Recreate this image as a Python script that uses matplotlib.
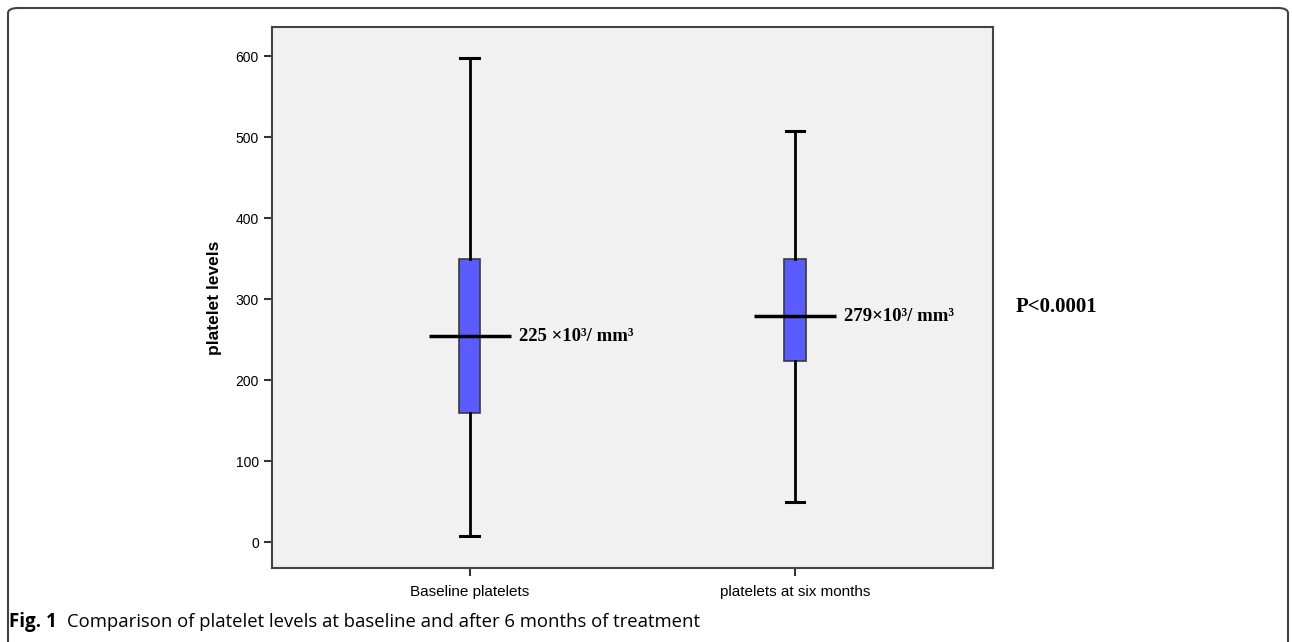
import matplotlib
matplotlib.use("Agg")

import matplotlib.pyplot as plt
from matplotlib.patches import FancyBboxPatch
import numpy as np

# Datos
categorias = ["Baseline platelets", "platelets at six months"]
minimos = [7, 50]
q1 = [159, 224]
medianas = [254, 279]
q3 = [350, 349]
maximos = [598, 508]
etiquetas_mediana = ["225 ×10³/ mm³", "279×10³/ mm³"]
texto_p = "P<0.0001"
y_ticks = [0, 100, 200, 300, 400, 500, 600]

posiciones = np.arange(len(categorias))

fig = plt.figure(figsize=(12.92, 6.42), dpi=100)
ax = fig.add_axes([0.2105, 0.1153, 0.558, 0.8427])
ax.set_facecolor("#f1f1f1")

# Cajas
stats = []
for i in range(len(categorias)):
    stats.append({"whislo": minimos[i], "q1": q1[i], "med": medianas[i],
                  "q3": q3[i], "whishi": maximos[i], "fliers": []})

ax.bxp(stats, positions=posiciones, widths=0.065, capwidths=0.058,
       patch_artist=True, showfliers=False,
       boxprops=dict(facecolor="#5a5cff", edgecolor="#3a3a3a", linewidth=1.2),
       whiskerprops=dict(color="black", linewidth=2),
       capprops=dict(color="black", linewidth=2.2),
       medianprops=dict(linewidth=0))

# Linea de mediana (mas ancha que la caja)
ax.hlines(medianas, posiciones - 0.125, posiciones + 0.125, color="black", linewidth=2.5, zorder=5)

for i, txt in enumerate(etiquetas_mediana):
    ax.annotate(txt, (posiciones[i] + 0.125, medianas[i]), xytext=(6, 0),
                textcoords="offset points", va="center", ha="left",
                fontfamily="Liberation Serif", fontweight="bold", fontsize=13.5)

ax.set_xlim(-0.609, 1.609)
ax.set_ylim(-32, 636)
ax.set_yticks(y_ticks)
ax.set_xticks(posiciones)
ax.set_xticklabels(categorias)
ax.set_ylabel("platelet levels", fontfamily="Liberation Sans", fontweight="bold", fontsize=12.5, labelpad=10)

for lbl in ax.get_yticklabels():
    lbl.set_fontfamily("Liberation Sans")
    lbl.set_fontsize(10)
for lbl in ax.get_xticklabels():
    lbl.set_fontfamily("Liberation Sans")
    lbl.set_fontsize(11)
ax.tick_params(axis="both", direction="out", length=6, width=1.5, color="#333333")
ax.tick_params(axis="x", pad=6)
for s in ax.spines.values():
    s.set_color("#444444")
    s.set_linewidth(1.5)

fig.text(1016 / 1292, 1 - 307 / 642, texto_p, fontfamily="Liberation Serif",
         fontweight="bold", fontsize=15, va="center", ha="left")

# Pie de figura
fig.text(9 / 1292, 1 - 622 / 642, "Fig. 1", fontfamily="Open Sans", fontweight="bold",
         fontsize=13.5, va="center", ha="left")
fig.text(67 / 1292, 1 - 622 / 642, "Comparison of platelet levels at baseline and after 6 months of treatment",
         fontfamily="Open Sans", fontsize=13.3, va="center", ha="left")

# Marco exterior
marco = FancyBboxPatch((8 / 1292, -0.02), 1280 / 1292, 1 - 8 / 642 + 0.02,
                       boxstyle="round,pad=0,rounding_size=0.008", transform=fig.transFigure,
                       facecolor="none", edgecolor="#444444", linewidth=1.5)
fig.patches.append(marco)

fig.savefig("out.png", dpi=100)
